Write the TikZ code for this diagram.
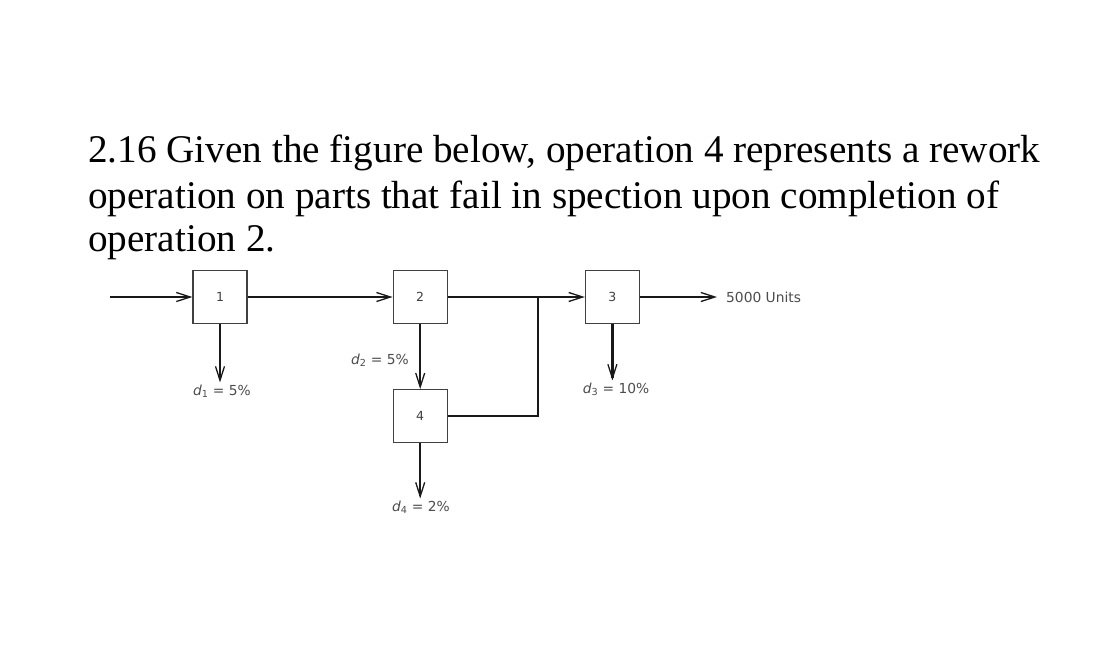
\documentclass[tikz,border=0pt]{standalone}
\usepackage{fontspec}
\setmainfont{Liberation Serif}
\newfontfamily\labelfont{DejaVu Sans}
\usetikzlibrary{positioning,arrows.meta}

\begin{document}
\begin{tikzpicture}[x=1pt,y=-1pt,
    opnode/.style={rectangle, draw=black!75, line width=1.2pt, minimum width=54pt, minimum height=53pt, inner sep=0pt, font=\labelfont\fontsize{12.5}{14}\selectfont, text=black!75},
    flow/.style={line width=2.3pt, draw=black!90, -{Straight Barb[length=14pt,width=9pt,line width=1.3pt]}},
    pipe/.style={line width=2.3pt, draw=black!90},
    lbl/.style={font=\labelfont\fontsize{13.8}{16}\selectfont, text=black!70, inner sep=2pt},
    qtext/.style={font=\fontsize{39.2}{44}\selectfont, anchor=base west, inner sep=0pt}]
    \useasboundingbox (0,0) rectangle (1116,649);
    %Question
    \node[qtext] (q1) at (88,162.7) {2.16 Given the figure below, operation 4 represents a rework};
    \node[qtext] (q2) at (88,208.5) {operation on parts that fail in spection upon completion of};
    \node[qtext] (q3) at (88,251) {operation 2.};
    %Nodes
    \node[opnode] (op1) at (220,297) {1};
    \node[opnode] (op2) [right=145pt of op1] {2};
    \node[opnode] (op3) [right=137pt of op2] {3};
    \node[opnode] (op4) [below=65pt of op2] {4};
    \coordinate (in) at (110,297);
    \coordinate (join) at (538,297);
    \node[lbl, anchor=west, inner xsep=9pt] (out) at (717,297) {5000 Units};
    \node[lbl] (d1) at (222,391) {{\itshape d}\textsubscript{1} = 5\%};
    \node[lbl] (d2) at (380,360) {{\itshape d}\textsubscript{2} = 5\%};
    \node[lbl] (d3) at (616,389) {{\itshape d}\textsubscript{3} = 10\%};
    \node[lbl] (d4) at (421,507) {{\itshape d}\textsubscript{4} = 2\%};

    %Lines
    \draw[flow] (in) -- (op1.west);
    \draw[flow] (op1.east) -- (op2.west);
    \draw[flow] (op2.east) -- (op3.west);
    \draw[flow] (op3.east) -- (out.west);
    \draw[flow] (op1.south) -- (op1.south |- d1.north);
    \draw[flow] (op2.south) -- (op4.north);
    \draw[flow] (op3.south) -- (op3.south |- d3.north);
    \draw[flow] (op4.south) -- (op4.south |- d4.north);
    \draw[pipe] (op4.east) -| (join);
\end{tikzpicture}
\end{document}
